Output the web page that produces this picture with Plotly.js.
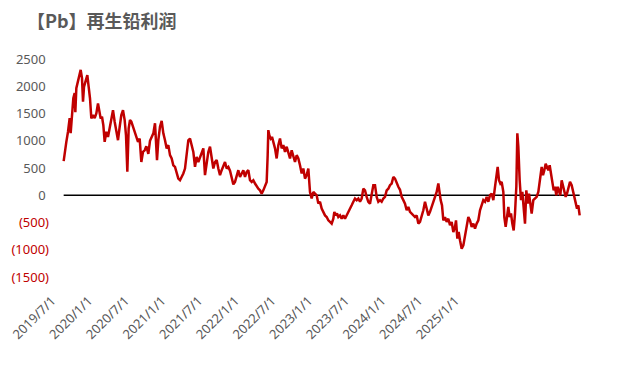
<!DOCTYPE html>
<html>
<head>
<meta charset="utf-8">
<script src="https://cdn.plot.ly/plotly-3.0.1.min.js"></script>
<style>html,body{margin:0;padding:0;background:#fff}#chart{width:634px;height:367px}</style>
</head>
<body>
<div id="chart"></div>
<script>
// trading-day index of each sample
const tradingDay = [2,5,10,15,20,23,27,31,35,37,40,45,50,53,57,60,63,67,73,77,81,85,90,95,100,105,109,113,117,121,125,130,135,140,145,150,155,160,165,170,175,180,185,189,193,197,201,205,210,215,220,225,230,235,240,245,250,256,261,266,271,276,279,282,286,291,296,301,306,311,316,321,326,331,336,341,346,351,356,361,366,371,376,381,386,391,396,401,406,411,416,421,426,431,436,441,446,451,456,461,466,471,476,481,486,491,496,501,506,511,516,521,526,531,536,541,546,551,556,561,566,571,576,581,586,591,596,601,606,611,614,616,619,623,627,631,636,641,646,651,656,661,666,671,676,681,686,691,696,701,706,711,716,721,726,731,736,741,746,751,756,761,766,771,776,781,786,791,796,801,806,811,814,818,822,826,831,836,841,846,851,856,861,866,871,876,881,886,891,896,901,906,911,916,921,926,931,936,941,946,951,956,961,966,971,976,981,986,991,996,1001,1006,1011,1016,1021,1026,1031,1036,1041,1046,1051,1056,1061,1066,1071,1076,1081,1086,1091,1096,1101,1106,1111,1116,1121,1126,1129,1133,1137,1141,1146,1151,1156,1161,1166,1171,1176,1179,1183,1187,1191,1196,1201,1206,1211,1216,1221,1226,1231,1236,1241,1246,1251,1256,1261,1266,1271,1276,1281,1286,1291,1296,1301,1304,1308,1312,1316,1321,1324,1328,1332,1336,1340,1344,1348,1352,1356,1360,1363,1366,1370,1374,1378,1382,1386,1390,1394,1398,1402,1406,1411,1416,1421,1426,1429,1432,1436,1440,1444,1448,1452,1456,1460,1464,1468,1472,1476,1480,1484,1488,1492,1496,1500,1504,1508,1512,1516,1521,1526,1530,1534,1538,1542,1546,1550];
// profit, yuan/ton
const profit = [625,795,980,1165,1415,1140,1415,1780,1875,1525,1965,2115,2265,2300,2150,1715,1990,2080,2205,1990,1780,1410,1470,1415,1500,1685,1560,1410,1440,1285,980,1165,1070,1225,1410,1560,1350,1165,1010,1255,1470,1560,1380,1100,430,1225,1380,1350,1255,1195,1070,980,1040,610,795,825,900,760,1000,1070,1135,1320,950,645,1010,1255,1365,1135,1010,860,920,735,675,550,520,430,305,275,335,400,490,705,1010,1040,920,795,520,705,610,705,795,860,370,550,795,890,645,490,610,645,490,370,460,550,610,490,520,450,305,200,245,370,460,335,400,460,335,430,460,275,245,275,215,155,120,90,30,90,155,245,735,1195,1100,1040,1070,980,860,675,920,1040,860,920,795,890,795,675,825,735,610,735,675,550,400,490,305,370,490,60,-60,60,30,0,-150,-120,-245,-305,-370,-400,-460,-490,-520,-430,-305,-370,-335,-400,-370,-430,-370,-430,-370,-335,-275,-185,-120,-60,-90,-60,-120,-60,120,90,-30,-120,-155,0,185,185,-30,-120,-90,-120,-60,-30,90,120,185,215,335,305,215,155,100,-30,-90,-155,-275,-215,-305,-335,-370,-400,-370,-520,-490,-400,-275,-120,-245,-370,-305,-215,-155,-60,60,215,60,-90,-185,-460,-400,-490,-430,-550,-490,-675,-580,-460,-795,-675,-825,-980,-920,-765,-550,-400,-460,-580,-520,-610,-520,-460,-275,-155,-90,-120,-30,-120,0,30,-90,155,335,520,275,215,245,60,-400,-580,-400,-215,-400,-335,-520,-645,-335,155,1135,890,275,-90,60,-245,-520,90,-155,30,-155,-335,-90,-60,-30,60,245,335,520,370,460,580,520,460,550,370,245,90,155,0,155,60,0,275,155,60,-30,30,120,245,185,60,0,-155,-245,-185,-370];
// category-axis labels and the trading-day index they sit on
const tickDays = [-33,77,187,297,407,517,627,737,847,957,1067,1177];
const tickLabels = ['2019/7/1','2020/1/1','2020/7/1','2021/1/1','2021/7/1','2022/1/1','2022/7/1','2023/1/1','2023/7/1','2024/1/1','2024/7/1','2025/1/1'];
const yTickVals = [2500,2000,1500,1000,500,0,-500,-1000,-1500];
const yTickText = yTickVals.map(v => v < 0
  ? '<span style="color:#C00000">(' + Math.abs(v) + ')</span>'
  : v + '\u00a0');

const traces = [
  {x:[tradingDay[0], tradingDay[tradingDay.length-1]], y:[0,0], type:'scatter', mode:'lines',
   line:{color:'#000000', width:1.5}, hoverinfo:'skip', showlegend:false},
  {x:tradingDay, y:profit, type:'scatter', mode:'lines',
   line:{color:'#C00000', width:2.5}, showlegend:false}
];

const layout = {
  width:634, height:367,
  margin:{l:50, r:52, t:59, b:90},
  paper_bgcolor:'#ffffff', plot_bgcolor:'#ffffff',
  font:{family:'"Noto Sans", "Noto Sans CJK SC", sans-serif', size:13, color:'#595959'},
  title:{text:'【Pb】再生铅利润', x:27/634, xref:'container', xanchor:'left',
         y:1-22/367, yref:'container', yanchor:'middle',
         font:{family:'"Noto Sans CJK SC", sans-serif', size:18, color:'#595959', weight:'bold'}},
  xaxis:{range:[-39,1557], showgrid:false, zeroline:false, showline:false,
         tickmode:'array', tickvals:tickDays, ticktext:tickLabels, tickangle:-45,
         ticks:'outside', ticklen:10, tickcolor:'rgba(0,0,0,0)',
         tickfont:{size:13, color:'#595959'}},
  yaxis:{range:[-1500,2500], showgrid:false, zeroline:false, showline:false,
         tickmode:'array', tickvals:yTickVals, ticktext:yTickText,
         tickfont:{size:13, color:'#595959'}}
};
Plotly.newPlot('chart', traces, layout, {displayModeBar:false, staticPlot:true});
</script>
</body>
</html>
